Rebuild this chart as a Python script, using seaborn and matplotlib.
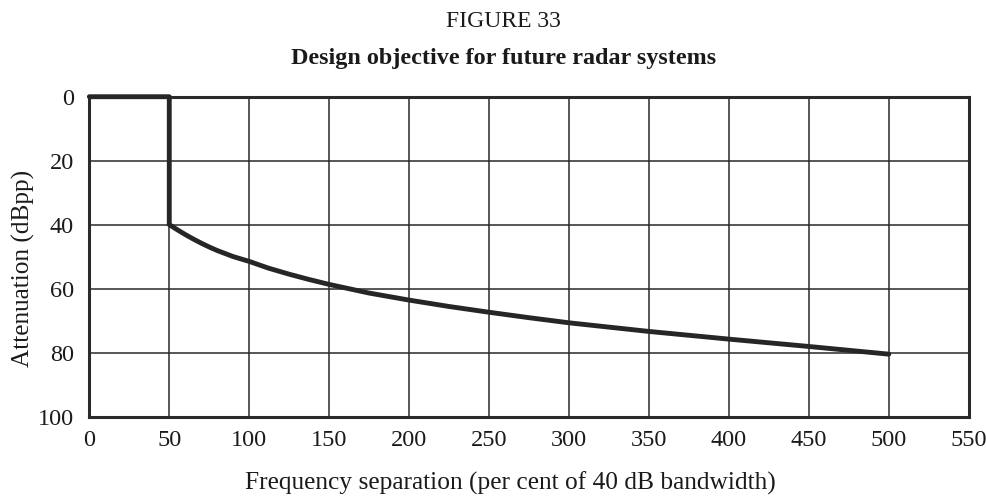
import matplotlib
matplotlib.use("Agg")
import matplotlib.pyplot as plt
import seaborn as sns
import pandas as pd

# ---- data ----
path_x = [0, 50, 50, 55, 60, 65, 70, 75, 80, 90, 100, 112, 125, 137, 150, 175, 200,
          225, 250, 275, 300, 350, 400, 450, 500]
path_y = [0, 0, 40, 41.6, 43.1, 44.5, 45.8, 47.0, 48.1, 50.0, 51.5, 53.6, 55.5, 57.1,
          58.7, 61.4, 63.6, 65.6, 67.4, 69.1, 70.7, 73.4, 75.8, 78.1, 80.5]
x_ticks = [0, 50, 100, 150, 200, 250, 300, 350, 400, 450, 500, 550]
y_ticks = [0, 20, 40, 60, 80, 100]

fig_title = "FIGURE 33"
sub_title = "Design objective for future radar systems"
x_label = "Frequency separation (per cent of 40 dB bandwidth)"
y_label = "Attenuation (dBpp)"

sns.set_theme(style="white")
plt.rcParams["font.family"] = ["Liberation Serif", "DejaVu Serif"]

fig = plt.figure(figsize=(9.86, 4.99), dpi=100)
ax = fig.add_axes([0.0906, 0.1653, 0.8919, 0.6409])

df = pd.DataFrame({"x": path_x, "y": path_y})
sns.lineplot(data=df, x="x", y="y", sort=False, estimator=None, ax=ax,
             color="#262626", linewidth=3.5, clip_on=False, zorder=5)

ax.set_xlim(0, 550)
ax.set_ylim(100, 0)
ax.set_xticks(x_ticks)
ax.set_yticks(y_ticks)
ax.set_xticklabels([str(v) for v in x_ticks])
ax.set_yticklabels([str(v) for v in y_ticks])
ax.grid(True, color="#2a2a2a", linewidth=1.1)
ax.set_axisbelow(True)
for s in ax.spines.values():
    s.set_visible(True)
    s.set_color("#2a2a2a")
    s.set_linewidth(2.2)
ax.tick_params(axis="both", length=0, labelsize=17.5, colors="#1a1a1a")
ax.tick_params(axis="x", pad=10)
ax.tick_params(axis="y", pad=11)
ax.set_xlabel("")
ax.set_ylabel("")

fig.text(0.511, 0.956, fig_title, ha="center", va="center", fontsize=17, color="#1a1a1a")
fig.text(0.511, 0.882, sub_title, ha="center", va="center", fontsize=17.4,
         fontweight="bold", color="#1a1a1a")
fig.text(0.518, 0.032, x_label, ha="center", va="center", fontsize=18.3, color="#1a1a1a")
fig.text(0.0233, 0.462, y_label, ha="center", va="center", fontsize=18.2,
         rotation=90, color="#1a1a1a")

fig.savefig("out.png", dpi=100)
